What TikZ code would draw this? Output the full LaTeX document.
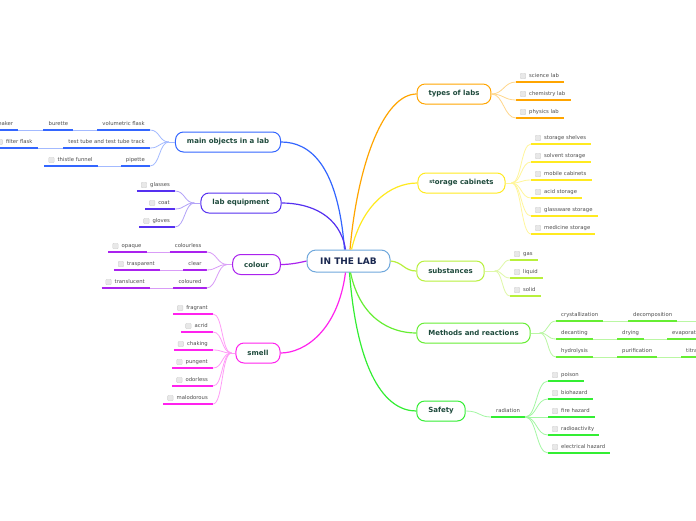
\documentclass[tikz,border=0pt]{standalone}
\usepackage{fontspec}
\setmainfont{DejaVu Sans}
\definecolor{cOr}{HTML}{FFA500}
\definecolor{cYe}{HTML}{FFEA20}
\definecolor{cSub}{HTML}{B8F03C}
\definecolor{cMe}{HTML}{66EE33}
\definecolor{cSa}{HTML}{33EE33}
\definecolor{cMo}{HTML}{3366FF}
\definecolor{cEq}{HTML}{5530F0}
\definecolor{cCo}{HTML}{AA22EE}
\definecolor{cSm}{HTML}{FF22EE}
\definecolor{cCe}{HTML}{6FA8DC}
\definecolor{tmain}{HTML}{1E4A3C}
\definecolor{tcen}{HTML}{1A2850}
\definecolor{tleaf}{HTML}{4D4D4D}
\newcommand\mkleaf[5]{%
  \node[leaf,anchor=#3] (#1) at (#4) {\hspace*{13pt}#5\hspace*{5pt}};
  \draw[ul=#2] (#1.south west) -- (#1.south east);
  \node[cb] (#1-cb) at ([xshift=7pt,yshift=6pt]#1.south west) {};
}
\newcommand\mkstep[5]{%
  \node[leaf,anchor=#3] (#1) at (#4) {\hspace*{5pt}#5\hspace*{5pt}};
  \draw[ul=#2] (#1.south west) -- (#1.south east);
}
\begin{document}
\begin{tikzpicture}[x=1pt,y=-1pt,
  main/.style={draw=#1, line width=1pt, rounded corners=8pt, fill=white, minimum height=20pt, inner xsep=11.5pt, inner ysep=0pt, font=\bfseries\fontsize{7}{8}\selectfont, text=tmain},
  leaf/.style={inner xsep=0pt, inner ysep=2.5pt, text height=4.2pt, text depth=1.5pt, font=\fontsize{5.3}{6}\selectfont, text=tleaf},
  ul/.style={draw=#1, line width=1.5pt},
  lc/.style={draw=#1!45!white, line width=0.8pt},
  bc/.style={draw=#1, line width=1.2pt},
  cb/.style={draw=gray!35, fill=gray!18, line width=0.4pt, rounded corners=1pt, minimum size=5.5pt, inner sep=0pt},
]
\useasboundingbox (0,0) rectangle (696,520);
\fill[white] (0,0) rectangle (696,520);
\clip (0,0) rectangle (696,520);

% ---------- main nodes
\node[draw=cCe, line width=1pt, rounded corners=9pt, fill=white, minimum width=83pt, minimum height=22pt, font=\bfseries\fontsize{9}{10}\selectfont, text=tcen] (center) at (348.5,261) {IN THE LAB};
\node[main=cOr] (types) at (454,94) {types of labs};
\node[main=cYe] (storage) at (461.5,183) {\raisebox{1.2pt}{\fontsize{5}{5}\selectfont st}orage cabinets};
\node[main=cSub] (subst) at (450.5,271) {substances};
\node[main=cMe] (methods) at (473.5,333) {Methods and reactions};
\node[main=cSa] (safety) at (441,411) {Safety};
\node[main=cMo] (mainobj) at (228,142) {main objects in a lab};
\node[main=cEq] (labeq) at (241,203) {lab equipment};
\node[main=cCo] (colour) at (256.5,264.5) {colour};
\node[main=cSm] (smell) at (258,353) {smell};

% ---------- main connectors
\draw[bc=cOr] ([xshift=1.5pt]center.north) .. controls (358,160) and (385,94) .. (types.west);
\draw[bc=cYe] ([xshift=3pt]center.north) .. controls (362,205) and (390,183) .. (storage.west);
\draw[bc=cSub] (center.east) .. controls (403,262) and (404,271) .. (subst.west);
\draw[bc=cMe] ([xshift=2pt]center.south) .. controls (360,318) and (390,333) .. (methods.west);
\draw[bc=cSa] ([xshift=1pt]center.south) .. controls (357,372) and (385,411) .. (safety.west);
\draw[bc=cMo] ([xshift=-4pt]center.north) .. controls (338,165) and (310,142) .. (mainobj.east);
\draw[bc=cEq] ([xshift=-3pt]center.north) .. controls (340,215) and (310,203) .. (labeq.east);
\draw[bc=cCo] (center.west) .. controls (298,263) and (290,264.5) .. (colour.east);
\draw[bc=cSm] ([xshift=-3pt]center.south) .. controls (338,330) and (305,353) .. (smell.east);

% ---------- types of labs
\mkleaf{sci}{cOr}{south west}{516,82}{science lab}
\mkleaf{chem}{cOr}{south west}{516,100}{chemistry lab}
\mkleaf{phys}{cOr}{south west}{516,118}{physics lab}
\foreach \n in {sci,chem,phys}
  \draw[lc=cOr] (types.east) .. controls +(12,0) and +(-12,0) .. (\n.south west);

% ---------- storage cabinets
\mkleaf{ss}{cYe}{south west}{531,144}{storage shelves}
\mkleaf{sv}{cYe}{south west}{531,162}{solvent storage}
\mkleaf{mc}{cYe}{south west}{531,180}{mobile cabinets}
\mkleaf{as}{cYe}{south west}{531,198}{acid storage}
\mkleaf{gs}{cYe}{south west}{531,216}{glassware storage}
\mkleaf{ms}{cYe}{south west}{531,234}{medicine storage}
\coordinate (stj) at ([xshift=6pt]storage.east);
\draw[lc=cYe] (storage.east) -- (stj);
\foreach \n in {ss,sv,mc,as,gs,ms}
  \draw[lc=cYe] (stj) .. controls +(10,0) and +(-10,0) .. (\n.south west);

% ---------- substances
\mkleaf{gas}{cSub}{south west}{510,260}{gas}
\mkleaf{liq}{cSub}{south west}{510,278}{liquid}
\mkleaf{sol}{cSub}{south west}{510,296}{solid}
\coordinate (suj) at ([xshift=10pt]subst.east);
\draw[lc=cSub] (subst.east) -- (suj);
\foreach \n in {gas,liq,sol}
  \draw[lc=cSub] (suj) .. controls +(8,0) and +(-8,0) .. (\n.south west);

% ---------- methods and reactions
\mkstep{cry}{cMe}{south west}{556,321}{crystallization}
\mkstep{dec}{cMe}{south west}{628,321}{decomposition}
\mkstep{decant}{cMe}{south west}{556,339}{decanting}
\mkstep{dry}{cMe}{south west}{617,339}{drying}
\mkstep{eva}{cMe}{south west}{667,339}{evaporation}
\mkstep{hyd}{cMe}{south west}{556,357}{hydrolysis}
\mkstep{pur}{cMe}{south west}{617,357}{purification}
\mkstep{tit}{cMe}{south west}{681,357}{titration}
\coordinate (mej) at ([xshift=9pt]methods.east);
\coordinate (decnext) at (720,321);
\draw[lc=cMe] (methods.east) -- (mej);
\foreach \n in {cry,decant,hyd}
  \draw[lc=cMe] (mej) .. controls +(9,0) and +(-9,0) .. (\n.south west);
\draw[lc=cMe] (cry.south east) -- (dec.south west);
\draw[lc=cMe] (dec.south east) -- (decnext);
\draw[lc=cMe] (decant.south east) -- (dry.south west);
\draw[lc=cMe] (dry.south east) -- (eva.south west);
\draw[lc=cMe] (hyd.south east) -- (pur.south west);
\draw[lc=cMe] (pur.south east) -- (tit.south west);

% ---------- safety
\mkstep{rad}{cSa}{south west}{491,417}{radiation}
\draw[lc=cSa] (safety.east) .. controls +(14,0) and +(-12,0) .. (rad.south west);
\mkleaf{poi}{cSa}{south west}{548,381}{poison}
\mkleaf{bio}{cSa}{south west}{548,399}{biohazard}
\mkleaf{fir}{cSa}{south west}{548,417}{fire hazard}
\mkleaf{rac}{cSa}{south west}{548,435}{radioactivity}
\mkleaf{ele}{cSa}{south west}{548,453}{electrical hazard}
\foreach \n in {poi,bio,fir,rac,ele}
  \draw[lc=cSa] (rad.south east) .. controls +(12,0) and +(-12,0) .. (\n.south west);

% ---------- main objects in a lab
\mkstep{vol}{cMo}{south east}{150,130}{volumetric flask}
\mkstep{bur}{cMo}{south east}{73.3,130}{burette}
\mkleaf{bea}{cMo}{south east}{18.3,130}{beaker}
\mkstep{ttt}{cMo}{south east}{150,148}{test tube and test tube track}
\mkleaf{fil}{cMo}{south east}{37.7,148}{filter flask}
\mkstep{pip}{cMo}{south east}{150,166}{pipette}
\mkleaf{thi}{cMo}{south east}{97.7,166}{thistle funnel}
\coordinate (moj) at ([xshift=-6pt]mainobj.west);
\draw[lc=cMo] (mainobj.west) -- (moj);
\foreach \n in {vol,ttt,pip}
  \draw[lc=cMo] (moj) .. controls +(-10,0) and +(10,0) .. (\n.south east);
\draw[lc=cMo] (vol.south west) -- (bur.south east);
\draw[lc=cMo] (bur.south west) -- (bea.south east);
\draw[lc=cMo] (ttt.south west) -- (fil.south east);
\draw[lc=cMo] (pip.south west) -- (thi.south east);

% ---------- lab equipment
\mkleaf{gla}{cEq}{south east}{175,191}{glasses}
\mkleaf{coa}{cEq}{south east}{175,209}{coat}
\mkleaf{glo}{cEq}{south east}{175,227}{gloves}
\coordinate (eqj) at ([xshift=-6pt]labeq.west);
\draw[lc=cEq] (labeq.west) -- (eqj);
\foreach \n in {gla,coa,glo}
  \draw[lc=cEq] (eqj) .. controls +(-10,0) and +(10,0) .. (\n.south east);

% ---------- colour
\mkstep{cls}{cCo}{south east}{206.7,252}{colourless}
\mkleaf{opa}{cCo}{south east}{146.7,252}{opaque}
\mkstep{clr}{cCo}{south east}{206.7,270}{clear}
\mkleaf{tra}{cCo}{south east}{160,270}{trasparent}
\mkstep{cld}{cCo}{south east}{206.7,288}{coloured}
\mkleaf{trl}{cCo}{south east}{150,288}{translucent}
\coordinate (coj) at ([xshift=-5pt]colour.west);
\draw[lc=cCo] (colour.west) -- (coj);
\foreach \n in {cls,clr,cld}
  \draw[lc=cCo] (coj) .. controls +(-10,0) and +(10,0) .. (\n.south east);
\draw[lc=cCo] (cls.south west) -- (opa.south east);
\draw[lc=cCo] (clr.south west) -- (tra.south east);
\draw[lc=cCo] (cld.south west) -- (trl.south east);

% ---------- smell
\mkleaf{fra}{cSm}{south east}{213,314}{fragrant}
\mkleaf{acr}{cSm}{south east}{213,332}{acrid}
\mkleaf{cha}{cSm}{south east}{213,350}{chaking}
\mkleaf{pun}{cSm}{south east}{213,368}{pungent}
\mkleaf{odo}{cSm}{south east}{213,386}{odorless}
\mkleaf{mal}{cSm}{south east}{213,404}{malodorous}
\coordinate (smj) at ([xshift=-4pt]smell.west);
\draw[lc=cSm] (smell.west) -- (smj);
\foreach \n in {fra,acr,cha,pun,odo,mal}
  \draw[lc=cSm] (smj) .. controls +(-10,0) and +(10,0) .. (\n.south east);
\end{tikzpicture}
\end{document}
